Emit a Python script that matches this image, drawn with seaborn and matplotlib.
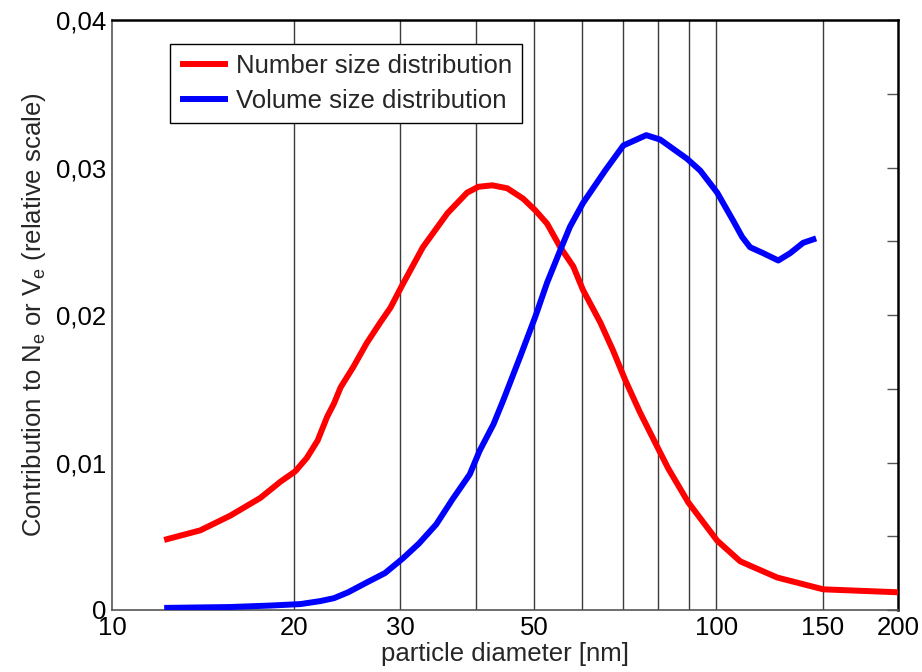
import numpy as np
import pandas as pd
import seaborn as sns
from matplotlib import pyplot as plt
from matplotlib.ticker import FixedLocator, FuncFormatter, NullFormatter

# diameter [nm] and relative contribution
num_d = [12.2, 14.0, 15.7, 17.6, 19.0, 20.1, 21.0, 21.9, 22.7, 23.3, 23.9, 25.1, 26.4,
         27.8, 28.9, 30.2, 32.7, 35.9, 38.7, 40.4, 42.6, 45.1, 47.9, 50.2, 52.5, 55.2,
         58.0, 60.2, 64.3, 67.5, 70.7, 74.8, 80.5, 83.3, 89.9, 100.4, 109.6, 126.2,
         150.4, 173.2, 200.0]
num_val = [0.00475, 0.0054, 0.0064, 0.0076, 0.0087, 0.0094, 0.0103, 0.0115, 0.0131,
           0.0140, 0.0151, 0.0165, 0.0181, 0.0195, 0.0205, 0.0220, 0.0246, 0.0269,
           0.0283, 0.0287, 0.0288, 0.0286, 0.0279, 0.0271, 0.0262, 0.0246, 0.0233,
           0.0217, 0.0195, 0.0176, 0.0156, 0.0134, 0.0108, 0.0096, 0.0073, 0.0047,
           0.0033, 0.0022, 0.0014, 0.0013, 0.0012]

vol_d = [12.2, 15.7, 18.3, 20.5, 22.1, 23.3, 24.6, 26.5, 28.3, 30.3, 32.2, 34.4, 36.6,
         39.1, 40.6, 42.8, 44.4, 47.4, 50.2, 52.5, 55.2, 57.3, 60.2, 65.5, 70.2, 76.6,
         80.8, 89.5, 94.1, 100.4, 106.7, 110.4, 113.8, 119.6, 126.7, 132.6, 139.3, 146.4]
vol_val = [0.00014, 0.0002, 0.0003, 0.0004, 0.0006, 0.0008, 0.0012, 0.0019, 0.0025,
           0.0035, 0.0045, 0.0058, 0.0075, 0.0092, 0.0108, 0.0126, 0.0142, 0.0172,
           0.0199, 0.0222, 0.0244, 0.0260, 0.0276, 0.0298, 0.0315, 0.0322, 0.0319,
           0.0306, 0.0298, 0.0283, 0.0264, 0.0253, 0.0246, 0.0242, 0.0237, 0.0242,
           0.0249, 0.0252]

series_names = ["Number size distribution", "Volume size distribution"]
grid_x = [20, 30, 40, 50, 60, 70, 80, 90, 100, 150]
xtick_labels = {10: "10", 20: "20", 30: "30", 50: "50", 100: "100", 150: "150", 200: "200"}

df = pd.concat([
	pd.DataFrame({"d": num_d, "val": num_val, "series": series_names[0]}),
	pd.DataFrame({"d": vol_d, "val": vol_val, "series": series_names[1]}),
])

sns.set_style("white")
plt.rcParams['font.family'] = ['Liberation Sans', 'DejaVu Sans']
plt.rcParams['mathtext.default'] = 'regular'

fig = plt.figure(figsize=(9.22, 6.72), dpi=100)
ax = fig.add_axes([0.1215, 0.0923, 0.8525, 0.8777])

for gx in grid_x:
	ax.axvline(gx, color='#3c3c3c', lw=1.0, zorder=1)

sns.lineplot(data=df, x="d", y="val", hue="series", palette={series_names[0]: "red", series_names[1]: "blue"},
	linewidth=4.3, ax=ax, zorder=3, legend=True, solid_joinstyle='round', solid_capstyle='butt')

ax.set_xscale('log')
ax.set_xlim(10, 200)
ax.set_ylim(0, 0.04)

ax.xaxis.set_major_locator(FixedLocator(list(xtick_labels.keys())))
ax.xaxis.set_major_formatter(FuncFormatter(lambda v, p: xtick_labels.get(int(round(v)), "")))
ax.xaxis.set_minor_locator(FixedLocator([]))
ax.xaxis.set_minor_formatter(NullFormatter())

ax.yaxis.set_major_locator(FixedLocator([0, 0.01, 0.02, 0.03, 0.04]))
ax.yaxis.set_minor_locator(FixedLocator([0.005, 0.015, 0.025, 0.035]))
ax.yaxis.set_major_formatter(FuncFormatter(lambda v, p: "0" if v == 0 else f"{v:.2f}".replace(".", ",")))

ax.tick_params(axis='both', which='both', direction='in', length=8, width=1, color='#555555',
	labelsize=18.5, labelcolor='black', right=True)
ax.tick_params(axis='x', which='both', length=0, pad=4)
ax.tick_params(axis='y', which='both', pad=4)

for side in ['left', 'bottom']:
	ax.spines[side].set_color('#555555')
	ax.spines[side].set_linewidth(1.2)
for side in ['right', 'top']:
	ax.spines[side].set_color('black')
	ax.spines[side].set_linewidth(1.8)

ax.set_xlabel("particle diameter [nm]", fontsize=18.5, labelpad=2)
ax.set_ylabel("Contribution to N$_{e}$ or V$_{e}$ (relative scale)", fontsize=18.5, labelpad=6)

handles, labels = ax.get_legend_handles_labels()
leg = ax.legend(handles, labels, loc='upper left', bbox_to_anchor=(0.074, 0.96), fontsize=18.5,
	frameon=True, fancybox=False, framealpha=1, edgecolor='black', borderpad=0.4,
	handlelength=1.85, handletextpad=0.3, labelspacing=0.42, borderaxespad=0)
leg.get_frame().set_linewidth(1.0)

fig.savefig("out.png", dpi=100)
